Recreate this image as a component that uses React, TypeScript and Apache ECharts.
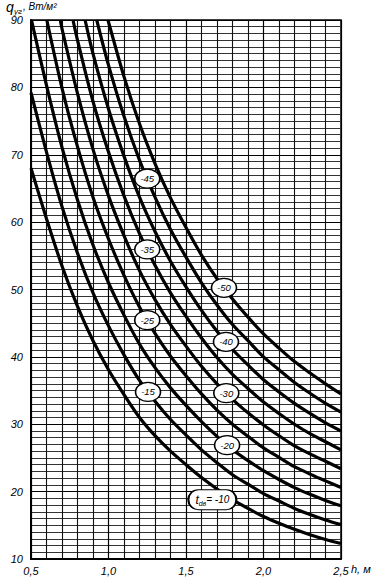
import React, { useEffect, useRef } from "react";
import * as echarts from "echarts";

// h, m  vs  q, W/m2 — one curve per design temperature
const curveM10: [number, number][] = [[0.5,68],[0.6,60.5],[0.7,53.5],[0.8,47.5],[0.9,42.4],[1.0,38.1],[1.1,34.4],[1.2,31.0],[1.3,28.3],[1.4,26.0],[1.5,24.0],[1.6,22.1],[1.7,20.4],[1.8,18.8],[1.9,17.5],[2.0,16.3],[2.1,15.3],[2.2,14.4],[2.3,13.6],[2.4,12.9],[2.5,12.3]];
const curveM15: [number, number][] = [[0.5,79.2],[0.6,70.4],[0.7,62.3],[0.8,55.4],[0.9,49.5],[1.0,44.6],[1.1,40.3],[1.2,36.5],[1.3,33.4],[1.4,30.7],[1.5,28.4],[1.6,26.2],[1.7,24.3],[1.8,22.5],[1.9,21.1],[2.0,19.7],[2.1,18.6],[2.2,17.5],[2.3,16.6],[2.4,15.8],[2.5,15.1]];
const curveM20: [number, number][] = [[0.503,90],[0.6,80.3],[0.7,71.1],[0.8,63.3],[0.9,56.6],[1.0,51.0],[1.1,46.2],[1.2,41.9],[1.3,38.4],[1.4,35.4],[1.5,32.8],[1.6,30.4],[1.7,28.2],[1.8,26.2],[1.9,24.6],[2.0,23.1],[2.1,21.8],[2.2,20.6],[2.3,19.6],[2.4,18.7],[2.5,17.9]];
const curveM25: [number, number][] = [[0.602,90],[0.7,79.9],[0.8,71.2],[0.9,63.7],[1.0,57.5],[1.1,52.1],[1.2,47.4],[1.3,43.5],[1.4,40.1],[1.5,37.2],[1.6,34.5],[1.7,32.1],[1.8,30.0],[1.9,28.2],[2.0,26.5],[2.1,25.1],[2.2,23.7],[2.3,22.6],[2.4,21.6],[2.5,20.6]];
const curveM30: [number, number][] = [[0.689,90],[0.7,88.7],[0.8,79.1],[0.9,70.8],[1.0,63.9],[1.1,58.0],[1.2,52.8],[1.3,48.5],[1.4,44.8],[1.5,41.6],[1.6,38.6],[1.7,36.0],[1.8,33.7],[1.9,31.7],[2.0,29.9],[2.1,28.3],[2.2,26.8],[2.3,25.6],[2.4,24.5],[2.5,23.4]];
const curveM35: [number, number][] = [[0.771,90],[0.8,87.0],[0.9,77.9],[1.0,70.4],[1.1,63.9],[1.2,58.3],[1.3,53.6],[1.4,49.5],[1.5,46.0],[1.6,42.8],[1.7,39.9],[1.8,37.4],[1.9,35.3],[2.0,33.3],[2.1,31.6],[2.2,30.0],[2.3,28.6],[2.4,27.4],[2.5,26.2]];
const curveM40: [number, number][] = [[0.849,90],[0.9,85.0],[1.0,76.8],[1.1,69.8],[1.2,63.7],[1.3,58.6],[1.4,54.2],[1.5,50.4],[1.6,46.9],[1.7,43.8],[1.8,41.1],[1.9,38.8],[2.0,36.6],[2.1,34.8],[2.2,33.1],[2.3,31.6],[2.4,30.2],[2.5,29.0]];
const curveM45: [number, number][] = [[0.924,90],[1.0,83.3],[1.1,75.7],[1.2,69.2],[1.3,63.7],[1.4,58.9],[1.5,54.8],[1.6,51.0],[1.7,47.7],[1.8,44.8],[1.9,42.4],[2.0,40.0],[2.1,38.1],[2.2,36.2],[2.3,34.6],[2.4,33.1],[2.5,31.8]];
const curveM50: [number, number][] = [[0.997,90],[1.0,89.7],[1.1,81.6],[1.2,74.6],[1.3,68.7],[1.4,63.6],[1.5,59.2],[1.6,55.1],[1.7,51.6],[1.8,48.6],[1.9,45.9],[2.0,43.4],[2.1,41.3],[2.2,39.3],[2.3,37.6],[2.4,36.0],[2.5,34.5]];

const curves = [curveM10, curveM15, curveM20, curveM25, curveM30, curveM35, curveM40, curveM45, curveM50];
const curveNames = ["-10", "-15", "-20", "-25", "-30", "-35", "-40", "-45", "-50"];

// h at which each curve's label sits (index -> h)
const labelH = [null, 1.255, 1.765, 1.25, 1.76, 1.25, 1.758, 1.25, 1.745];
// the -10 label sits beside its curve
const label10Pos: [number, number] = [1.67, 18.8];

const yTicks = [10, 20, 30, 40, 50, 60, 70, 80, 90];

const FONT = "'Liberation Sans', 'DejaVu Sans', sans-serif";
const ELLIPSE = "path://M0,50 A50,50 0 1,1 100,50 A50,50 0 1,1 0,50 Z";
const PILL = "path://M10,0 L38,0 A10,10 0 0,1 38,20 L10,20 A10,10 0 0,1 10,0 Z";

function valueAt(curve: [number, number][], h: number): number {
  for (let i = 0; i < curve.length - 1; i++) {
    const [h0, q0] = curve[i];
    const [h1, q1] = curve[i + 1];
    if (h >= h0 && h <= h1) return q0 + ((q1 - q0) * (h - h0)) / (h1 - h0);
  }
  return curve[curve.length - 1][1];
}

export default function App() {
  const ref = useRef<HTMLDivElement>(null);
  useEffect(() => {
    if (!ref.current) return;
    const chart = echarts.init(ref.current, null, { renderer: "svg" });

    const labelData: any[] = [];
    curves.forEach((c, i) => {
      const h = labelH[i];
      if (h == null) return;
      labelData.push({
        value: [h, valueAt(c, h)],
        name: curveNames[i],
        symbol: ELLIPSE,
        symbolSize: [25, 19],
        label: { formatter: curveNames[i] },
      });
    });
    labelData.push({
      value: label10Pos,
      name: curveNames[0],
      symbol: PILL,
      symbolSize: [48, 20],
      label: {
        formatter: "{t|t}{s|dв}{n|= " + curveNames[0] + "}",
        rich: {
          t: { fontSize: 12, fontStyle: "italic", lineHeight: 14, fontFamily: FONT, color: "#000" },
          s: { fontSize: 7, fontStyle: "italic", lineHeight: 8, verticalAlign: "bottom", fontFamily: FONT, color: "#000" },
          n: { fontSize: 10, fontStyle: "italic", lineHeight: 14, fontFamily: FONT, color: "#000" },
        },
      },
    });

    const series: any[] = curves.map((c, i) => ({
      type: "line",
      name: curveNames[i],
      data: c,
      symbol: "none",
      smooth: 0.3,
      lineStyle: { color: "#000", width: 3.2 },
      z: 3,
    }));
    series.push({
      type: "scatter",
      data: labelData,
      z: 5,
      itemStyle: { color: "#fff", borderColor: "#000", borderWidth: 1.4, opacity: 1 },
      label: {
        show: true,
        position: "inside",
        color: "#000",
        fontSize: 9.5,
        fontFamily: FONT,
        fontStyle: "italic",
      },
    });

    chart.setOption({
      animation: false,
      backgroundColor: "#fff",
      grid: { left: 31, right: 35, top: 20, bottom: 20, show: true, borderColor: "#000", borderWidth: 1.5 },
      xAxis: {
        type: "value",
        min: 0.5,
        max: 2.5,
        interval: 0.5,
        axisLine: { show: true, onZero: false, lineStyle: { color: "#000", width: 2 } },
        axisTick: { show: false },
        axisLabel: {
          formatter: (v: number) => v.toFixed(1).replace(".", ","),
          fontStyle: "italic",
          fontSize: 11,
          color: "#000",
          margin: 6,
          fontFamily: FONT,
        },
        splitLine: { show: true, lineStyle: { color: "#000", width: 1.2 } },
        minorTick: { show: false, splitNumber: 5 },
        minorSplitLine: { show: true, lineStyle: { color: "#111", width: 1.1 } },
      },
      yAxis: {
        type: "value",
        min: yTicks[0],
        max: yTicks[yTicks.length - 1],
        interval: 10,
        axisLine: { show: true, onZero: false, lineStyle: { color: "#000", width: 2 } },
        axisTick: { show: false },
        axisLabel: { fontStyle: "italic", fontSize: 11, color: "#000", margin: 8, fontFamily: FONT },
        splitLine: { show: true, lineStyle: { color: "#000", width: 1.2 } },
        minorTick: { show: false, splitNumber: 10 },
        minorSplitLine: { show: true, lineStyle: { color: "#333", width: 1 } },
      },
      graphic: [
        { type: "text", left: 6, top: 0, style: { text: "q", fontSize: 14, fontStyle: "italic", fontFamily: FONT, fill: "#000" } },
        { type: "text", left: 14, top: 7, style: { text: "уг", fontSize: 8, fontStyle: "italic", fontFamily: FONT, fill: "#000" } },
        { type: "text", left: 23, top: 1, style: { text: ", Вт/м²", fontSize: 10, fontStyle: "italic", fontFamily: FONT, fill: "#000" } },
        { type: "text", left: 351, top: 563, style: { text: "h, м", fontSize: 11, fontStyle: "italic", fontFamily: FONT, fill: "#000" } },
      ],
      series,
    });
    return () => chart.dispose();
  }, []);
  return (
    <div
      ref={ref}
      style={{ position: "fixed", left: 0, top: 0, width: 376, height: 579, background: "#fff" }}
    />
  );
}
